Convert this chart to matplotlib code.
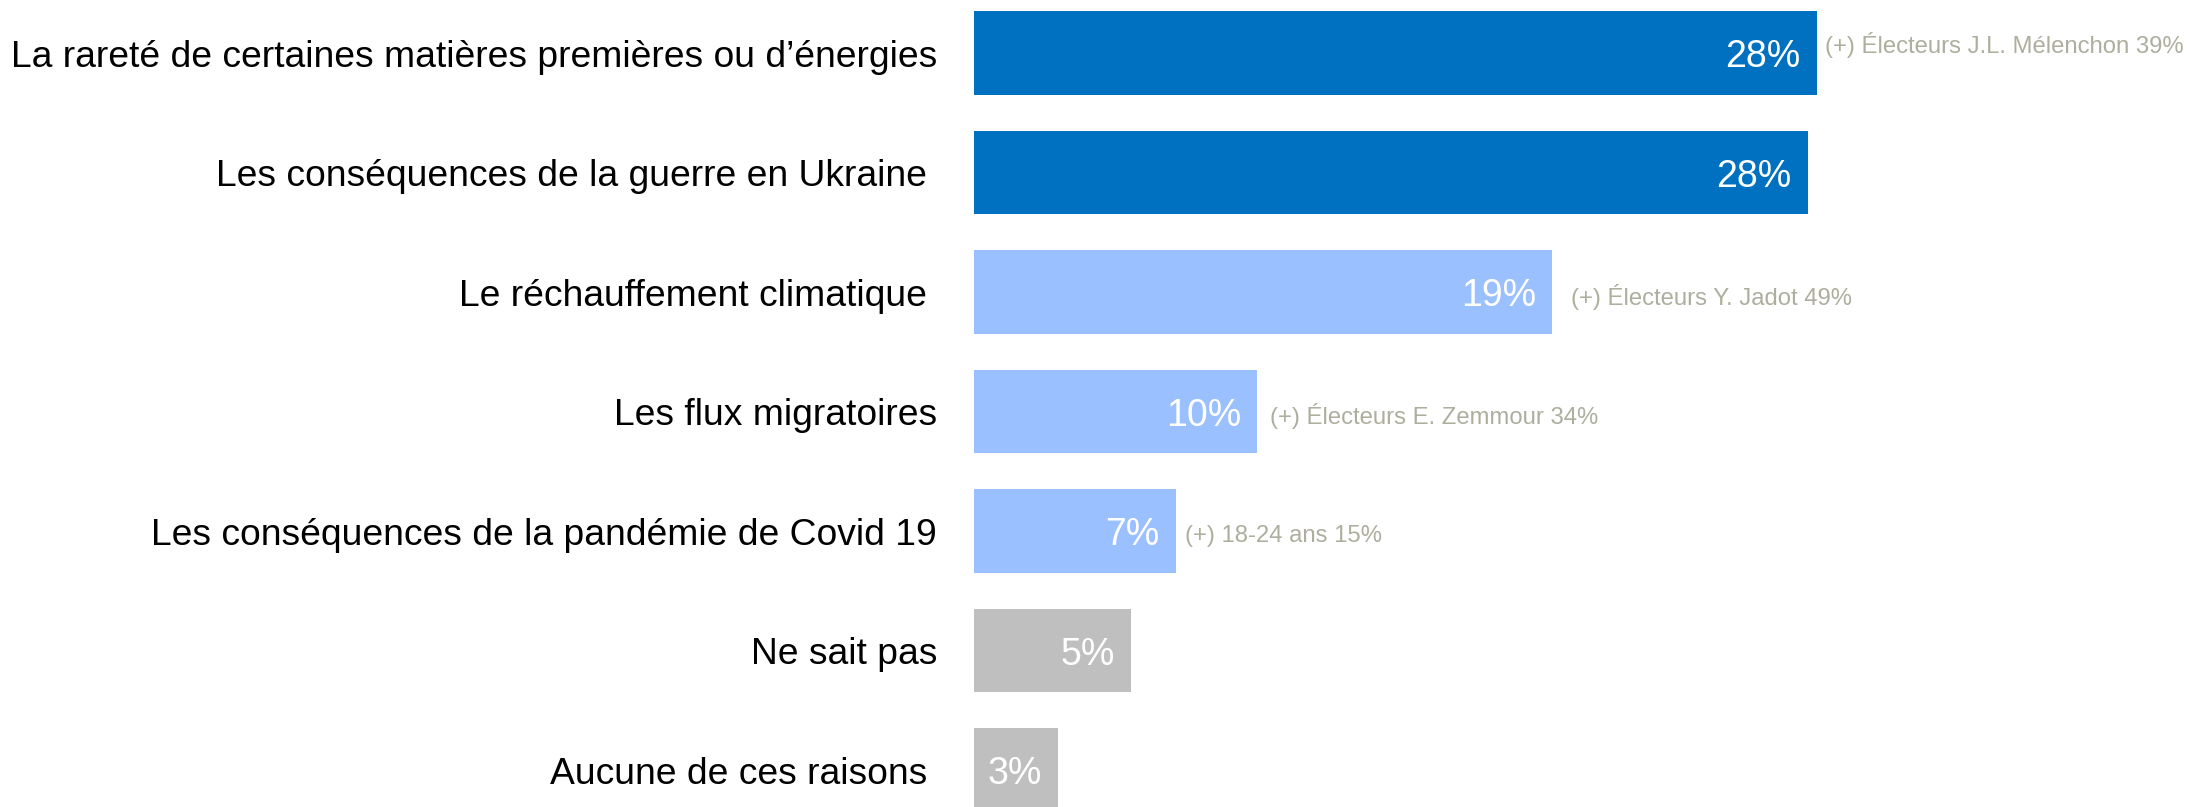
import matplotlib
matplotlib.use("Agg")
import matplotlib.pyplot as plt

categories = [
    "La rareté de certaines matières premières ou d\u2019énergies",
    "Les conséquences de la guerre en Ukraine ",
    "Le réchauffement climatique ",
    "Les flux migratoires",
    "Les conséquences de la pandémie de Covid 19",
    "Ne sait pas",
    "Aucune de ces raisons ",
]
values = [28.0, 27.7, 19.2, 9.4, 6.7, 5.2, 2.8]
value_labels = ["28%", "28%", "19%", "10%", "7%", "5%", "3%"]
annotations = [
    "(+) Électeurs J.L. Mélenchon 39%",
    "",
    "(+) Électeurs Y. Jadot 49%",
    "(+) Électeurs E. Zemmour 34%",
    "(+) 18-24 ans 15%",
    "",
    "",
]
colors = ["#0070C0", "#0070C0", "#9BC0FF", "#9BC0FF", "#9BC0FF", "#BFBFBF", "#BFBFBF"]

plt.rcParams['font.family'] = ['Liberation Sans', 'DejaVu Sans']

W, H = 2187, 807
fig = plt.figure(figsize=(W / 100, H / 100), dpi=100)
x0 = 974
px_per_unit = 30.1
ax_w_px = W - x0
ax = fig.add_axes([x0 / W, 0, ax_w_px / W, 1])
ax.set_xlim(0, ax_w_px / px_per_unit)
spacing = 119.5
c0 = 53
ax.set_ylim((H - c0) / spacing, -c0 / spacing)

ypos = list(range(len(categories)))
ax.barh(ypos, values, height=0.7, color=colors, edgecolor="none")

ann_dx = [6, 0, 14, 9.5, 7, 0, 0]
ann_dy = [6, 0, -3.5, -3.5, -3.5, 0, 0]
for y, v, lab, ann, dx, dy in zip(ypos, values, value_labels, annotations, ann_dx, ann_dy):
    ax.annotate(lab, xy=(v, y), xytext=(-11.5, -3), textcoords="offset points",
                ha="right", va="center", color="white", fontsize=27)
    if ann:
        ax.annotate(ann, xy=(v, y), xytext=(dx, dy), textcoords="offset points",
                    ha="left", va="center", color="#AEAE9E", fontsize=17.2,
                    annotation_clip=False)

for y, cat in zip(ypos, categories):
    ax.annotate(cat, xy=(0, y), xytext=(-26.5, -3), textcoords="offset points",
                ha="right", va="center", color="black", fontsize=26.8,
                annotation_clip=False)

ax.axis("off")
fig.savefig("out.png", dpi=100)
